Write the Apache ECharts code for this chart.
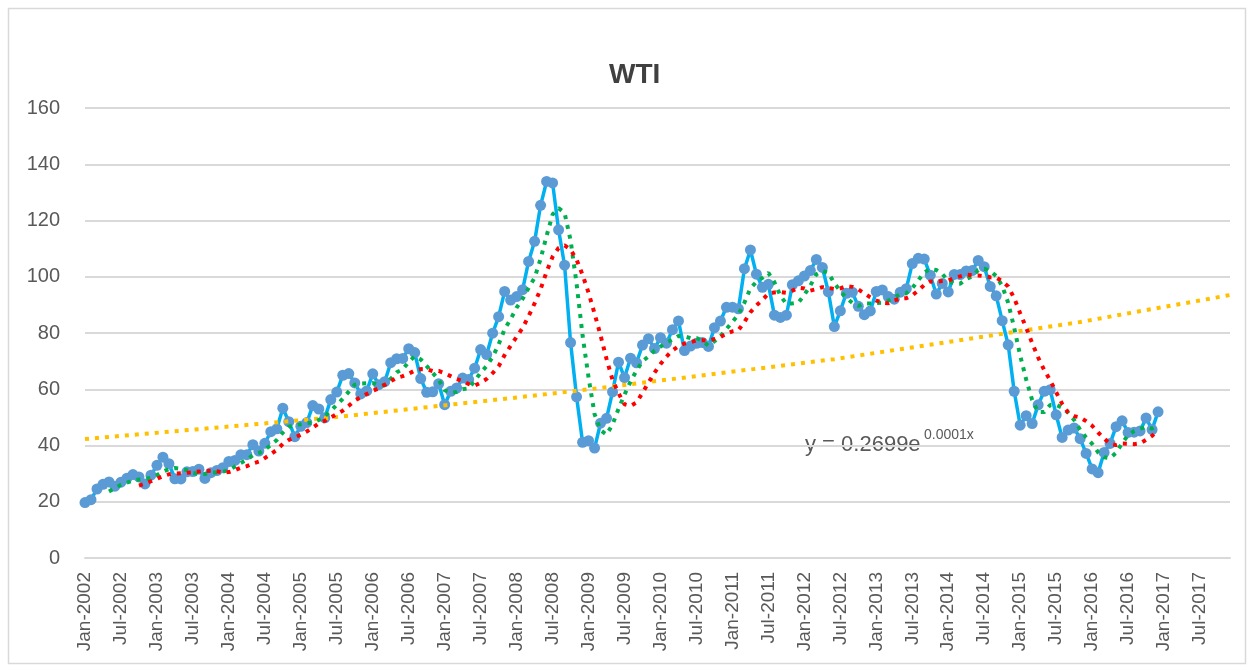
<!DOCTYPE html>
<html>
<head>
<meta charset="utf-8">
<title>WTI</title>
<script src="https://cdn.jsdelivr.net/npm/echarts@6/dist/echarts.min.js"></script>
<style>
    html, body { margin: 0; padding: 0; background: #ffffff; }
    #main { width: 1250px; height: 667px; }
</style>
</head>
<body>
<div id="main"></div>
<script>
// axis: monthly date axis, Jan-2002 .. Dec-2017
var years = [2002, 2003, 2004, 2005, 2006, 2007, 2008, 2009, 2010, 2011, 2012, 2013, 2014, 2015, 2016, 2017];
var monthNames = ['Jan', 'Feb', 'Mar', 'Apr', 'May', 'Jun', 'Jul', 'Aug', 'Sep', 'Oct', 'Nov', 'Dec'];

// WTI monthly price, one array per year
var wti2002 = [19.71, 20.72, 24.53, 26.18, 27.04, 25.52, 26.97, 28.39, 29.66, 28.84, 26.35, 29.46];
var wti2003 = [32.95, 35.83, 33.51, 28.17, 28.11, 30.66, 30.76, 31.57, 28.31, 30.34, 31.11, 32.13];
var wti2004 = [34.31, 34.69, 36.74, 36.75, 40.28, 38.03, 40.78, 44.90, 45.94, 53.28, 48.47, 43.15];
var wti2005 = [46.84, 48.15, 54.19, 52.98, 49.83, 56.35, 58.99, 64.98, 65.59, 62.26, 58.32, 59.41];
var wti2006 = [65.49, 61.63, 62.69, 69.44, 70.84, 70.95, 74.41, 73.04, 63.80, 58.89, 59.08, 61.96];
var wti2007 = [54.51, 59.28, 60.44, 63.98, 63.46, 67.49, 74.12, 72.36, 79.92, 85.80, 94.77, 91.69];
var wti2008 = [92.97, 95.39, 105.45, 112.58, 125.40, 133.88, 133.37, 116.67, 104.11, 76.61, 57.31, 41.12];
var wti2009 = [41.71, 39.09, 47.94, 49.65, 59.03, 69.64, 64.15, 71.05, 69.41, 75.72, 77.99, 74.47];
var wti2010 = [78.33, 76.39, 81.20, 84.29, 73.74, 75.34, 76.32, 76.60, 75.24, 81.89, 84.25, 89.15];
var wti2011 = [89.17, 88.58, 102.86, 109.53, 100.90, 96.26, 97.30, 86.33, 85.52, 86.32, 97.16, 98.56];
var wti2012 = [100.27, 102.20, 106.16, 103.32, 94.66, 82.30, 87.90, 94.13, 94.51, 89.49, 86.53, 87.86];
var wti2013 = [94.76, 95.31, 92.94, 92.02, 94.51, 95.77, 104.67, 106.57, 106.29, 100.54, 93.86, 97.63];
var wti2014 = [94.62, 100.82, 100.80, 102.07, 102.18, 105.79, 103.59, 96.54, 93.21, 84.40, 75.79, 59.29];
var wti2015 = [47.22, 50.58, 47.82, 54.45, 59.27, 59.82, 50.90, 42.87, 45.48, 46.22, 42.44, 37.19];
var wti2016 = [31.68, 30.32, 37.55, 40.75, 46.71, 48.76, 44.65, 44.72, 45.18, 49.78, 45.66, 51.97];

// moving-average trendline periods (Excel style)
var maShort = 5;   // green
var maLong = 10;   // red

// exponential trendline, values at these month indexes
var trendMonths = [0, 41, 73, 83, 125, 166, 191];
var trendValues = [42.3, 49.9, 57.3, 59.7, 70.7, 83.9, 93.5];

var yTicks = { min: 0, max: 160, step: 20 };

var categories = [];
years.forEach(function (y) {
    monthNames.forEach(function (m) { categories.push(m + '-' + y); });
});

var price = [].concat(wti2002, wti2003, wti2004, wti2005, wti2006, wti2007, wti2008,
    wti2009, wti2010, wti2011, wti2012, wti2013, wti2014, wti2015, wti2016);

function movingAverage(arr, n) {
    return arr.map(function (v, i) {
        if (i < n - 1) return null;
        var s = 0;
        for (var k = i - n + 1; k <= i; k++) s += arr[k];
        return +(s / n).toFixed(2);
    });
}

var trendData = categories.map(function () { return null; });
trendMonths.forEach(function (m, i) { trendData[m] = trendValues[i]; });

var font = '"Liberation Sans", Arial, sans-serif';
var textGray = '#595959';
var gridGray = '#D9D9D9';

var myChart = echarts.init(document.getElementById('main'));
myChart.setOption({
    backgroundColor: '#ffffff',
    animation: false,
    title: {
        text: 'WTI',
        left: 604,
        top: 56,
        textStyle: {
            fontFamily: font,
            fontSize: 28,
            fontWeight: 'bold',
            color: '#404040'
        }
    },
    grid: {
        left: 85,
        right: 20,
        top: 108,
        bottom: 109,
        containLabel: false
    },
    xAxis: {
        type: 'category',
        data: categories,
        boundaryGap: false,
        axisLine: { lineStyle: { color: gridGray, width: 2 } },
        axisTick: { show: false },
        axisLabel: {
            interval: 5,
            rotate: 90,
            margin: 14,
            color: textGray,
            fontFamily: font,
            fontSize: 19
        },
        splitLine: { show: false }
    },
    yAxis: {
        type: 'value',
        min: yTicks.min,
        max: yTicks.max,
        interval: yTicks.step,
        axisLine: { show: false },
        axisTick: { show: false },
        axisLabel: {
            margin: 25,
            color: textGray,
            fontFamily: font,
            fontSize: 20
        },
        splitLine: { lineStyle: { color: gridGray, width: 2 } }
    },
    series: [
        {
            name: 'WTI',
            type: 'line',
            data: price,
            showAllSymbol: true,
            symbol: 'circle',
            symbolSize: 11,
            itemStyle: { color: '#5B9BD5' },
            lineStyle: { color: '#00B0F0', width: 3.5 },
            z: 2
        },
        {
            name: 'Expon.',
            type: 'line',
            data: trendData,
            connectNulls: true,
            symbol: 'none',
            lineStyle: { color: '#FFC000', width: 4, type: [4, 6], cap: 'butt' },
            z: 3
        },
        {
            name: 'MA short',
            type: 'line',
            data: movingAverage(price, maShort),
            symbol: 'none',
            lineStyle: { color: '#00B050', width: 4, type: [4, 6], cap: 'butt' },
            z: 4
        },
        {
            name: 'MA long',
            type: 'line',
            data: movingAverage(price, maLong),
            symbol: 'none',
            lineStyle: { color: '#FF0000', width: 4, type: [4, 6], cap: 'butt' },
            z: 5
        }
    ],
    graphic: [
        {
            type: 'rect',
            left: 6,
            top: 6,
            shape: { width: 1237, height: 655 },
            style: { fill: 'none', stroke: gridGray, lineWidth: 1.5 },
            silent: true
        },
        {
            type: 'text',
            left: 805,
            top: 434,
            style: { text: 'y = 0.2699e', fill: textGray, font: '22px ' + font }
        },
        {
            type: 'text',
            left: 924,
            top: 428,
            style: { text: '0.0001x', fill: textGray, font: '14px ' + font }
        }
    ]
});
</script>
</body>
</html>
